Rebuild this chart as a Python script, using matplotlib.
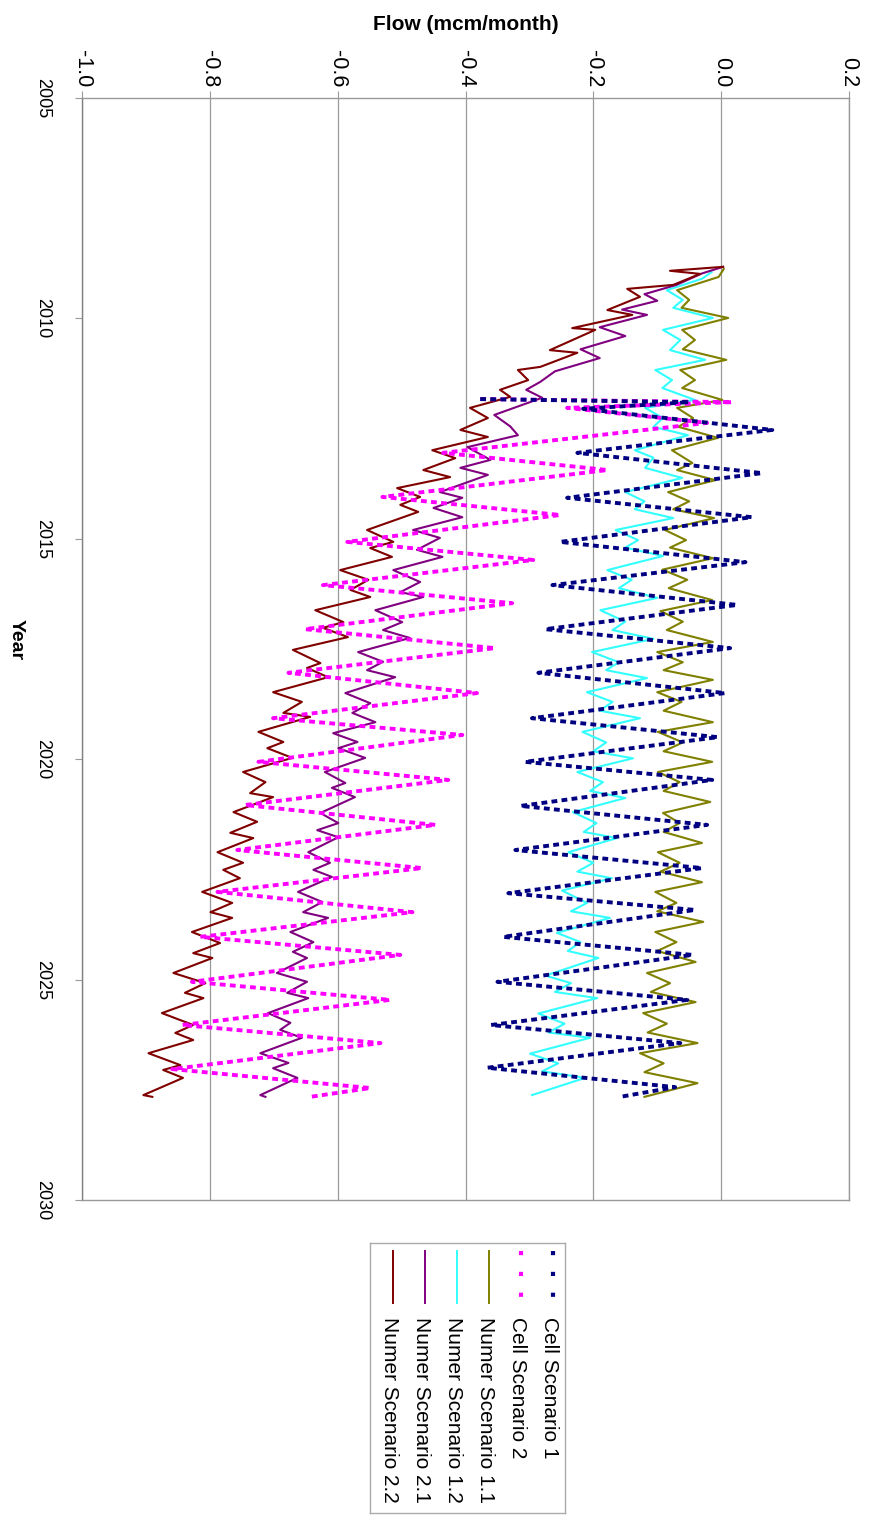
import matplotlib
matplotlib.use("Agg")
import matplotlib.pyplot as plt

plt.rcParams['font.family'] = ['Liberation Sans', 'DejaVu Sans']

# ---- data ----
series_names = ['Cell Scenario 1', 'Cell Scenario 2', 'Numer Scenario 1.1',
                'Numer Scenario 1.2', 'Numer Scenario 2.1', 'Numer Scenario 2.2']

cell1_t = [2011.83, 2011.90, 2012.05, 2012.53, 2013.05, 2013.51, 2014.07, 2014.51,
           2015.07, 2015.53, 2016.05, 2016.50, 2017.05, 2017.48, 2018.04, 2018.50,
           2019.07, 2019.50, 2020.06, 2020.47, 2021.06, 2021.49, 2022.06, 2022.47,
           2023.04, 2023.42, 2024.03, 2024.44, 2025.05, 2025.46, 2026.03, 2026.44,
           2027.00, 2027.44, 2027.66]
cell1_v = [-0.377, -0.050, -0.216, 0.080, -0.225, 0.064, -0.241, 0.048,
           -0.252, 0.038, -0.264, 0.025, -0.275, 0.014, -0.286, 0.006,
           -0.296, -0.005, -0.307, -0.014, -0.314, -0.022, -0.322, -0.030,
           -0.333, -0.041, -0.341, -0.045, -0.350, -0.053, -0.360, -0.064,
           -0.366, -0.072, -0.158]

cell2_t = [2011.83, 2011.90, 2012.03, 2012.37, 2013.05, 2013.44, 2014.05, 2014.46,
           2015.07, 2015.48, 2016.05, 2016.46, 2017.05, 2017.48, 2018.04, 2018.50,
           2019.07, 2019.45, 2020.06, 2020.47, 2021.04, 2021.49, 2022.06, 2022.47,
           2023.01, 2023.47, 2024.03, 2024.44, 2025.05, 2025.46, 2026.03, 2026.44,
           2027.03, 2027.46, 2027.66]
cell2_v = [-0.377, 0.017, -0.241, -0.022, -0.435, -0.178, -0.530, -0.252,
           -0.585, -0.294, -0.623, -0.327, -0.651, -0.354, -0.677, -0.382,
           -0.701, -0.405, -0.724, -0.427, -0.745, -0.447, -0.757, -0.468,
           -0.788, -0.483, -0.815, -0.502, -0.828, -0.518, -0.843, -0.533,
           -0.859, -0.549, -0.643]

num11_t = [2008.88, 2009.06, 2009.36, 2009.58, 2009.76, 2009.99, 2010.26, 2010.49, 2010.70,
           2010.94, 2011.17, 2011.40, 2011.58, 2011.85, 2012.03, 2012.26, 2012.46,
           2012.71, 2012.99, 2013.28, 2013.44, 2013.67, 2013.94, 2014.15, 2014.33,
           2014.53, 2014.80, 2015.03, 2015.20, 2015.44, 2015.70, 2015.93, 2016.12,
           2016.39, 2016.64, 2016.88, 2017.07, 2017.34, 2017.57, 2017.80, 2017.98,
           2018.20, 2018.48, 2018.70, 2018.90, 2019.16, 2019.38, 2019.62, 2019.82,
           2020.06, 2020.29, 2020.52, 2020.72, 2020.97, 2021.22, 2021.45, 2021.65,
           2021.90, 2022.11, 2022.35, 2022.55, 2022.79, 2023.01, 2023.26, 2023.45,
           2023.69, 2023.92, 2024.15, 2024.35, 2024.60, 2024.85, 2025.08, 2025.28,
           2025.51, 2025.76, 2026.00, 2026.20, 2026.44, 2026.67, 2026.90, 2027.10,
           2027.35, 2027.66]
num11_v = [0.004, -0.004, -0.069, -0.050, -0.062, 0.011, -0.061, -0.041, -0.060,
           0.008, -0.064, -0.041, -0.061, 0.002, -0.069, -0.044, -0.067,
           -0.005, -0.077, -0.045, -0.069, -0.009, -0.083, -0.050, -0.075,
           -0.011, -0.088, -0.055, -0.080, -0.013, -0.092, -0.053, -0.082,
           -0.014, -0.095, -0.060, -0.085, -0.013, -0.100, -0.060, -0.090,
           -0.013, -0.100, -0.062, -0.090, -0.013, -0.099, -0.060, -0.090,
           -0.014, -0.099, -0.065, -0.090, -0.017, -0.091, -0.065, -0.090,
           -0.030, -0.099, -0.065, -0.095, -0.030, -0.103, -0.070, -0.100,
           -0.028, -0.103, -0.070, -0.100, -0.040, -0.116, -0.080, -0.110,
           -0.040, -0.122, -0.085, -0.115, -0.037, -0.127, -0.090, -0.120,
           -0.037, -0.120]

num12_t = [2008.95, 2009.10, 2009.36, 2009.58, 2009.76, 2009.99, 2010.26, 2010.49, 2010.72,
           2010.94, 2011.17, 2011.40, 2011.58, 2011.85, 2012.03, 2012.26, 2012.46,
           2012.65, 2012.99, 2013.16, 2013.39, 2013.62, 2013.94, 2014.15, 2014.33,
           2014.53, 2014.80, 2015.03, 2015.20, 2015.39, 2015.71, 2015.93, 2016.12,
           2016.34, 2016.62, 2016.88, 2017.07, 2017.27, 2017.57, 2017.80, 2017.98,
           2018.16, 2018.48, 2018.70, 2018.90, 2019.07, 2019.38, 2019.62, 2019.82,
           2019.98, 2020.29, 2020.52, 2020.72, 2020.88, 2021.20, 2021.45, 2021.65,
           2021.79, 2022.11, 2022.35, 2022.55, 2022.70, 2022.98, 2023.26, 2023.45,
           2023.60, 2023.94, 2024.15, 2024.35, 2024.51, 2024.91, 2025.08, 2025.28,
           2025.42, 2025.77, 2026.00, 2026.20, 2026.32, 2026.68, 2026.90, 2027.08,
           2027.23, 2027.62]
num12_v = [-0.015, -0.030, -0.085, -0.060, -0.075, -0.013, -0.091, -0.064, -0.080,
           -0.025, -0.103, -0.077, -0.092, -0.041, -0.119, -0.091, -0.106,
           -0.052, -0.135, -0.106, -0.119, -0.061, -0.150, -0.120, -0.135,
           -0.075, -0.165, -0.130, -0.150, -0.091, -0.178, -0.140, -0.160,
           -0.100, -0.189, -0.150, -0.170, -0.106, -0.202, -0.160, -0.180,
           -0.116, -0.210, -0.170, -0.190, -0.127, -0.217, -0.180, -0.200,
           -0.138, -0.225, -0.185, -0.205, -0.150, -0.232, -0.195, -0.215,
           -0.163, -0.239, -0.200, -0.225, -0.171, -0.249, -0.210, -0.235,
           -0.174, -0.257, -0.220, -0.240, -0.192, -0.275, -0.235, -0.260,
           -0.194, -0.286, -0.245, -0.270, -0.205, -0.299, -0.255, -0.280,
           -0.213, -0.296]

num21_t = [2008.83, 2008.98, 2009.24, 2009.45, 2009.60, 2009.80, 2009.92, 2010.20, 2010.40,
           2010.70, 2010.90, 2011.20, 2011.44, 2011.62, 2011.80, 2012.19, 2012.45,
           2012.65, 2012.92, 2013.21, 2013.39, 2013.55, 2013.94, 2014.07, 2014.30,
           2014.51, 2014.80, 2014.98, 2015.25, 2015.41, 2015.71, 2015.98, 2016.21,
           2016.32, 2016.62, 2016.89, 2017.07, 2017.25, 2017.57, 2017.79, 2017.98,
           2018.14, 2018.50, 2018.73, 2018.95, 2019.16, 2019.41, 2019.61, 2019.75,
           2019.97, 2020.29, 2020.54, 2020.65, 2020.86, 2021.22, 2021.45, 2021.61,
           2021.77, 2022.11, 2022.35, 2022.51, 2022.67, 2023.01, 2023.24, 2023.47,
           2023.60, 2023.92, 2024.15, 2024.37, 2024.51, 2024.85, 2025.05, 2025.30,
           2025.42, 2025.76, 2025.98, 2026.14, 2026.32, 2026.67, 2026.89, 2027.01,
           2027.23, 2027.62, 2027.66]
num21_v = [0.003, -0.030, -0.070, -0.120, -0.100, -0.155, -0.116, -0.190, -0.150,
           -0.220, -0.190, -0.260, -0.283, -0.305, -0.280, -0.355, -0.330,
           -0.318, -0.397, -0.361, -0.408, -0.365, -0.440, -0.405, -0.450,
           -0.405, -0.482, -0.440, -0.476, -0.436, -0.513, -0.471, -0.502,
           -0.466, -0.541, -0.499, -0.529, -0.487, -0.568, -0.529, -0.554,
           -0.510, -0.588, -0.549, -0.577, -0.541, -0.607, -0.569, -0.599,
           -0.557, -0.620, -0.588, -0.609, -0.573, -0.627, -0.599, -0.632,
           -0.599, -0.646, -0.612, -0.638, -0.609, -0.662, -0.624, -0.654,
           -0.615, -0.674, -0.638, -0.670, -0.648, -0.695, -0.648, -0.679,
           -0.646, -0.709, -0.674, -0.690, -0.656, -0.721, -0.677, -0.701,
           -0.663, -0.721, -0.713]

num22_t = [2008.83, 2008.92, 2008.99, 2009.24, 2009.33, 2009.51, 2009.81, 2009.92, 2010.22,
           2010.26, 2010.72, 2010.78, 2011.10, 2011.17, 2011.40, 2011.62, 2011.78,
           2012.03, 2012.26, 2012.53, 2012.69, 2012.99, 2013.17, 2013.44, 2013.60,
           2013.85, 2014.05, 2014.23, 2014.39, 2014.80, 2015.07, 2015.21, 2015.41,
           2015.71, 2015.93, 2016.16, 2016.32, 2016.62, 2016.89, 2017.02, 2017.23,
           2017.52, 2017.82, 2017.93, 2018.14, 2018.48, 2018.70, 2018.95, 2019.04,
           2019.38, 2019.61, 2019.75, 2019.97, 2020.29, 2020.52, 2020.77, 2020.86,
           2021.20, 2021.42, 2021.67, 2021.79, 2022.11, 2022.35, 2022.51, 2022.70,
           2023.01, 2023.26, 2023.47, 2023.60, 2023.92, 2024.17, 2024.40, 2024.51,
           2024.85, 2025.08, 2025.30, 2025.42, 2025.76, 2026.03, 2026.21, 2026.37,
           2026.67, 2026.94, 2027.05, 2027.23, 2027.62, 2027.66]
num22_v = [0.003, -0.080, -0.033, -0.075, -0.147, -0.127, -0.178, -0.139, -0.233,
           -0.197, -0.268, -0.225, -0.283, -0.318, -0.302, -0.346, -0.330,
           -0.393, -0.365, -0.408, -0.365, -0.452, -0.416, -0.466, -0.424,
           -0.507, -0.471, -0.502, -0.474, -0.554, -0.513, -0.549, -0.515,
           -0.596, -0.552, -0.580, -0.549, -0.635, -0.591, -0.623, -0.584,
           -0.670, -0.627, -0.648, -0.615, -0.701, -0.656, -0.685, -0.643,
           -0.724, -0.685, -0.710, -0.671, -0.748, -0.713, -0.737, -0.701,
           -0.763, -0.726, -0.768, -0.732, -0.788, -0.748, -0.779, -0.753,
           -0.812, -0.765, -0.799, -0.765, -0.828, -0.784, -0.826, -0.796,
           -0.857, -0.807, -0.839, -0.810, -0.875, -0.826, -0.854, -0.826,
           -0.896, -0.846, -0.873, -0.842, -0.904, -0.890]

flow_ticks = [-1.0, -0.8, -0.6, -0.4, -0.2, 0.0, 0.2]
year_ticks = [2005, 2010, 2015, 2020, 2025, 2030]

colors = ['#000080', '#FF00FF', '#808000', '#33FFFF', '#800080', '#800000']
dashed = (0, (1.5, 1.1))

# ---- figure: the chart is drawn turned a quarter turn (year runs downwards) ----
W, H = 869, 1515
fig = plt.figure(figsize=(W / 100, H / 100), dpi=100)
ax = fig.add_axes([82 / W, 1 - 1200 / H, (849 - 82) / W, (1200 - 98) / H])

all_t = [cell1_t, cell2_t, num11_t, num12_t, num21_t, num22_t]
all_v = [cell1_v, cell2_v, num11_v, num12_v, num21_v, num22_v]
for i in [2, 3, 4, 5, 1, 0]:
    if i < 2:
        ax.plot(all_v[i], all_t[i], color=colors[i], lw=2.8, linestyle=dashed,
                dash_capstyle='butt')
    else:
        ax.plot(all_v[i], all_t[i], color=colors[i], lw=1.5)

ax.set_xlim(-1.0, 0.2)
ax.set_ylim(2030, 2005)
ax.set_xticks(flow_ticks)
ax.set_xticklabels(['%.1f' % v for v in flow_ticks], rotation=-90)
ax.set_yticks(year_ticks)
ax.set_yticklabels([str(y) for y in year_ticks], rotation=-90, va='center')
ax.xaxis.tick_top()
ax.tick_params(axis='x', length=5, width=0.8, color='#999999', pad=3, labelsize=15.5)
ax.tick_params(axis='y', length=5, width=0.8, color='#999999', pad=17, labelsize=13)
ax.grid(axis='x', color='#999999', lw=0.9)
ax.set_axisbelow(True)
for s in ax.spines.values():
    s.set_color('#999999')
    s.set_linewidth(1.0)
ax.spines['left'].set_color('#808080')

fig.text(466 / W, 1 - 25 / H, 'Flow (mcm/month)', ha='center', va='center',
         fontsize=15, fontweight='bold')
fig.text(16 / W, 1 - 640 / H, 'Year', ha='center', va='center', rotation=-90,
         fontsize=14, fontweight='bold')

# ---- legend, turned like the chart ----
lg = fig.add_axes([370 / W, 1 - 1513 / H, (565 - 370) / W, (1513 - 1243) / H])
lg.set_xlim(0, 195)
lg.set_ylim(270, 0)
lg.set_xticks([])
lg.set_yticks([])
for s in lg.spines.values():
    s.set_color('#aaaaaa')
    s.set_linewidth(1.0)
leg_x = [180, 148, 116, 84, 52, 20]
for i, name in enumerate(series_names):
    if i < 2:
        lg.plot([leg_x[i] + 3, leg_x[i] + 3], [8, 60], color=colors[i], lw=3.0,
                linestyle=(0, (1.0, 4.0)), dash_capstyle='butt')
    else:
        lg.plot([leg_x[i] + 3, leg_x[i] + 3], [8, 60], color=colors[i], lw=1.4)
    lg.text(leg_x[i], 74, name, rotation=-90, ha='center', va='top', fontsize=15)

fig.savefig('out.png', dpi=100)
